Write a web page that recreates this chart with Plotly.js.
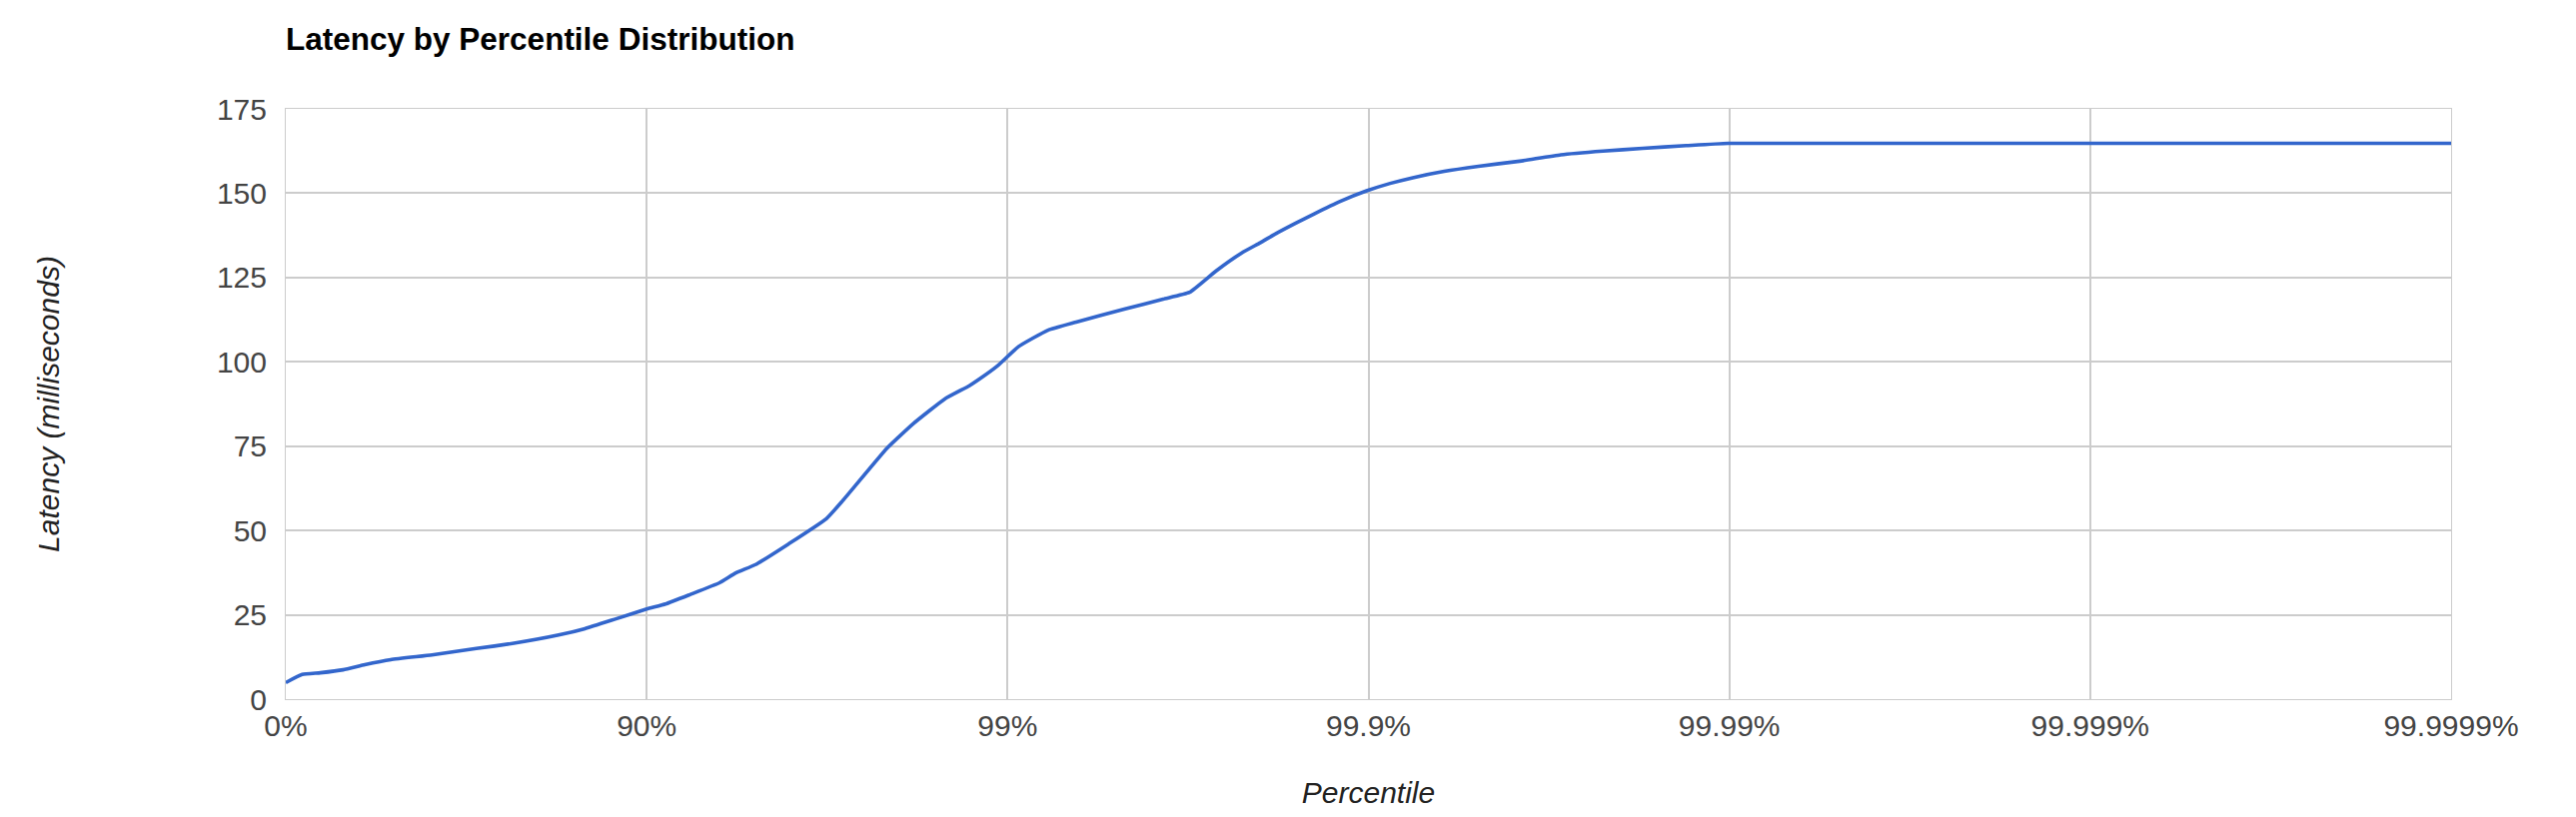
<!DOCTYPE html>
<html><head><meta charset="utf-8">
<script src="https://cdn.plot.ly/plotly-3.0.1.min.js"></script>
<style>body{margin:0;background:#fff}</style></head>
<body><div id="c" style="width:2578px;height:818px"></div>
<script>
const nines = [0,0.0455,0.0956,0.159,0.219,0.291,0.405,0.528,0.628,0.756,0.829,0.915,1.0,1.052,1.120,1.202,1.247,1.302,1.393,1.498,1.543,1.666,1.739,1.826,1.894,1.921,1.971,2.030,2.112,2.190,2.326,2.431,2.504,2.577,2.649,2.700,2.745,2.800,2.850,2.920,2.995,3.060,3.123,3.210,3.305,3.419,3.533,3.650,3.760,3.880,3.997,6];
const latency = [4.9,7.3,7.8,8.7,10.2,11.7,13.1,15,16.5,19,20.9,23.8,26.7,28.2,31,34.5,37.4,39.9,46,53.5,58.8,74.4,81.7,89,92.9,94.8,98.7,104.5,109.4,111.8,115.7,118.6,120.6,126.9,132.3,135.3,138.1,141.2,143.9,147.5,150.7,152.9,154.6,156.5,158,159.5,161.4,162.5,163.3,164.1,164.8,164.8];
const tickVals = [0,1,2,3,4,5,6];
const tickLabels = ["0%","90%","99%","99.9%","99.99%","99.999%","99.9999%"];
const yTicks = [0,25,50,75,100,125,150,175];
Plotly.newPlot('c',[{x:nines,y:latency,type:'scatter',mode:'lines',line:{color:'#3366cc',width:3.6,shape:'spline',smoothing:0.4},hoverinfo:'skip'}],{
 width:2578,height:818,margin:{l:286,r:125,t:109,b:118},
 paper_bgcolor:'#fff',plot_bgcolor:'#fff',showlegend:false,
 font:{family:'Liberation Sans, Arial, sans-serif',size:30,color:'#444'},
 title:{text:'<b>Latency by Percentile Distribution</b>',x:0,xref:'paper',xanchor:'left',y:0.952,yanchor:'middle',font:{size:31.5,color:'#000'}},
 xaxis:{range:[0,6],tickvals:tickVals,ticktext:tickLabels,showgrid:true,gridcolor:'#cccccc',gridwidth:1.6,zeroline:false,
   showline:true,linecolor:'#cccccc',mirror:true,ticks:'',ticklen:0,
   title:{text:'<i>Percentile</i>',standoff:40,font:{size:30,color:'#222'}}},
 yaxis:{range:[0,175],tickvals:yTicks,showgrid:true,gridcolor:'#cccccc',gridwidth:1.6,zeroline:true,zerolinecolor:'#333',zerolinewidth:2.5,
   showline:true,linecolor:'#cccccc',mirror:true,ticks:'',ticklabelstandoff:12,
   title:{text:'<i>Latency (milliseconds)</i>',standoff:148,font:{size:30,color:'#222'}}}
},{displayModeBar:false});
</script></body></html>
